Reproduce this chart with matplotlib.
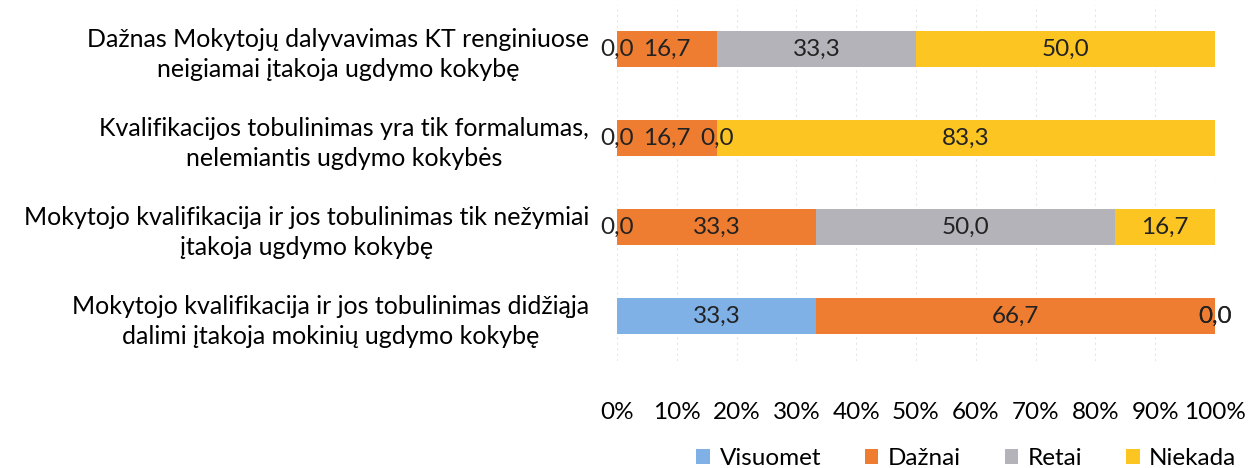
import numpy as np
import matplotlib.pyplot as plt

categories = [
    "Mokytojo kvalifikacija ir jos tobulinimas didžiąja\ndalimi įtakoja mokinių ugdymo kokybę",
    "Mokytojo kvalifikacija ir jos tobulinimas tik nežymiai\nįtakoja ugdymo kokybę",
    "Kvalifikacijos tobulinimas yra tik formalumas,\nnelemiantis ugdymo kokybės",
    "Dažnas Mokytojų dalyvavimas KT renginiuose\nneigiamai įtakoja ugdymo kokybę",
]
series_names = ["Visuomet", "Dažnai", "Retai", "Niekada"]
visuomet = [33.3, 0.0, 0.0, 0.0]
daznai = [66.7, 33.3, 16.7, 16.7]
retai = [0.0, 50.0, 0.0, 33.3]
niekada = [0.0, 16.7, 83.3, 50.0]
colors = ["#7fb0e6", "#ee7d32", "#b3b3b9", "#fdc522"]

plt.rcParams["font.family"] = ["Lato", "DejaVu Sans"]
plt.rcParams["font.size"] = 17.5

fig = plt.figure(figsize=(12.6, 4.68), dpi=100)
ax = fig.add_axes([0.4897, 0.2297, 0.4746, 0.7606])

y = np.arange(len(categories))
left = np.zeros(len(categories))
for name, vals, c in zip(series_names, [visuomet, daznai, retai, niekada], colors):
    vals = np.array(vals)
    ax.barh(y, vals, left=left, height=0.4, color=c, label=name, zorder=2)
    for yi, l, v in zip(y, left, vals):
        ax.text(l + v / 2, yi, f"{v:.1f}".replace(".", ","), ha="center",
                va="center", fontsize=17.5, color="#222222", zorder=3)
    left += vals

ax.set_xlim(0, 100)
ax.set_ylim(-0.5, 3.5)
ax.set_xticks(np.arange(0, 101, 10))
ax.set_xticklabels([f"{t}%" for t in range(0, 101, 10)])
ax.set_yticks(y)
ax.set_yticklabels(categories)
for t in ax.get_yticklabels():
    t.set_multialignment("center")
    t.set_linespacing(1.35)
ax.tick_params(axis="x", length=0, pad=30, labelsize=17.5)
ax.tick_params(axis="y", length=0, pad=20, labelsize=18)
ax.grid(axis="x", color="#e6e6e6", linestyle=(0, (2, 3)), linewidth=0.8, zorder=0)
for s in ax.spines.values():
    s.set_visible(False)

fig.legend(loc="center", bbox_to_anchor=(0.767, 0.02), ncol=4, frameon=False,
           handlelength=0.55, handleheight=0.55, handletextpad=0.4,
           columnspacing=1.8, fontsize=17.5)

fig.savefig("out.png", dpi=100)
